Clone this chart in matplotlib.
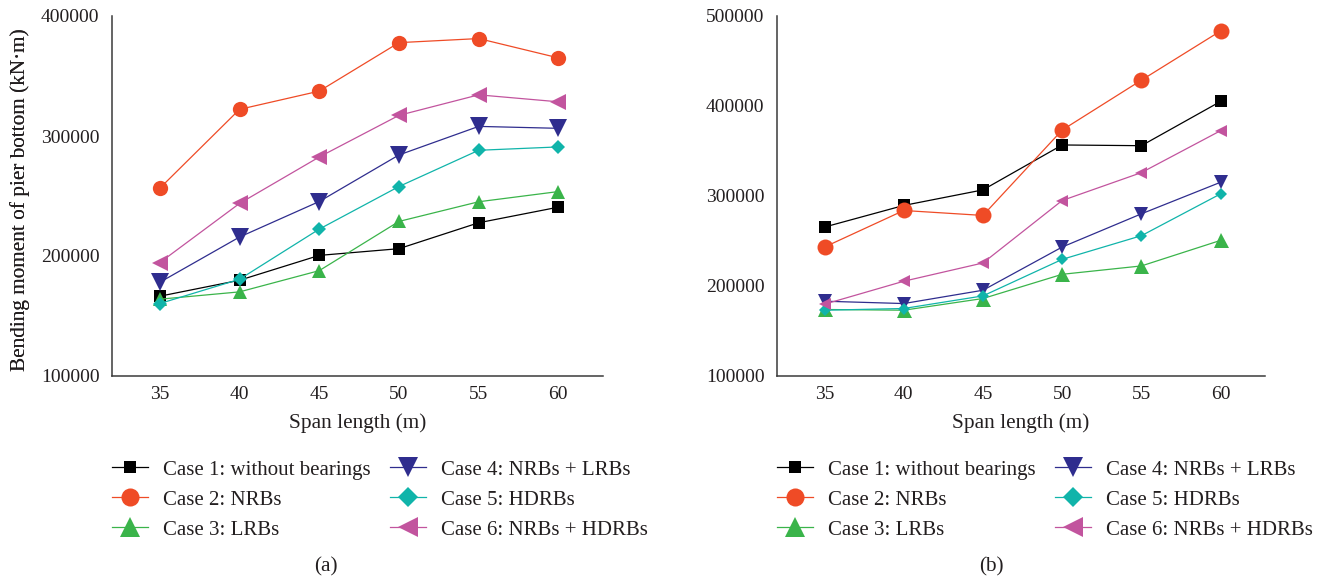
import matplotlib
matplotlib.use("Agg")
import matplotlib.pyplot as plt

plt.rcParams['font.family'] = ['Liberation Serif', 'DejaVu Serif']
plt.rcParams['text.color'] = '#231F20'
plt.rcParams['axes.labelcolor'] = '#231F20'
plt.rcParams['xtick.color'] = '#231F20'
plt.rcParams['ytick.color'] = '#231F20'

span = [35, 40, 45, 50, 55, 60]
labels = ["Case 1: without bearings", "Case 2: NRBs", "Case 3: LRBs",
          "Case 4: NRBs + LRBs", "Case 5: HDRBs", "Case 6: NRBs + HDRBs"]

# (a)
a_case1 = [166500, 179800, 200500, 206100, 227700, 240700]
a_case2 = [256500, 322200, 337400, 377800, 381200, 365100]
a_case3 = [164000, 170100, 187800, 228800, 245200, 253700]
a_case4 = [178100, 215800, 245400, 284200, 308000, 306400]
a_case5 = [160400, 180600, 222400, 257900, 288100, 290900]
a_case6 = [194500, 243800, 282500, 317200, 334300, 328500]

# (b)
b_case1 = [265500, 289500, 306800, 356700, 355900, 405100]
b_case2 = [243300, 283900, 278400, 373300, 428700, 483400]
b_case3 = [173900, 173100, 186100, 213000, 222300, 250700]
b_case4 = [183100, 180500, 195300, 243300, 280200, 315300]
b_case5 = [173100, 175000, 189000, 229600, 255900, 302400]
b_case6 = [179800, 205300, 225600, 295000, 326000, 372600]

a_yticks = [100000, 200000, 300000, 400000]
b_yticks = [100000, 200000, 300000, 400000, 500000]

colors = ['#000000', '#EF4B26', '#3AB44A', '#2F2D8E', '#10B4AA', '#C2549E']
markers = ['s', 'o', '^', 'v', 'D', '<']
a_ms = [8, 11, 10, 12.5, 7.5, 11.5]
b_ms = [8.2, 11.5, 10.8, 9.6, 5.8, 8.8]
leg_ms = [8.5, 13, 14, 14, 10, 14]
a_data = [a_case1, a_case2, a_case3, a_case4, a_case5, a_case6]
b_data = [b_case1, b_case2, b_case3, b_case4, b_case5, b_case6]

W, H = 1321, 582
fig = plt.figure(figsize=(W / 100, H / 100), dpi=100)

FS_TICK = 14
FS_LAB = 15.3
FS_LEG = 15


def make_panel(left_px, right_px, data, ms, yticks, ylim, letter, cap_x):
    top_px, bot_px = 16, 376
    ax = fig.add_axes([left_px / W, (H - bot_px) / H, (right_px - left_px) / W, (bot_px - top_px) / H])
    for d, c, m, s, lab in zip(data, colors, markers, ms, labels):
        ax.plot(span, d, color=c, marker=m, markersize=s, linewidth=0.9,
                markeredgewidth=0, label=lab)
    ax.set_xlim(32, 62.8)
    ax.set_ylim(*ylim)
    ax.set_xticks(span)
    ax.set_yticks(yticks)
    ax.set_yticklabels([str(v) for v in yticks])
    for s in ['top', 'right']:
        ax.spines[s].set_visible(False)
    for s in ['left', 'bottom']:
        ax.spines[s].set_color('#3a3a3a')
        ax.spines[s].set_linewidth(1.1)
    ax.tick_params(axis='both', length=0, labelsize=FS_TICK)
    ax.tick_params(axis='y', pad=9)
    ax.tick_params(axis='x', pad=7)
    ax.set_xlabel("Span length (m)", fontsize=FS_LAB)
    ax.set_ylabel("Bending moment of pier bottom (kN·m)", fontsize=FS_LAB)
    wpx = right_px - left_px
    ax.xaxis.set_label_coords(0.5, -(413 - bot_px) / (bot_px - top_px))
    ax.yaxis.label.set_verticalalignment('center')
    ax.yaxis.set_label_coords((20 - left_px) / wpx, 0.49)
    leg = ax.legend(loc='upper left', bbox_to_anchor=(left_px / W, (H - 460) / H),
                    bbox_transform=fig.transFigure, ncol=2, frameon=False,
                    fontsize=FS_LEG, borderpad=0, borderaxespad=0, handlelength=1.75,
                    handletextpad=0.68, columnspacing=0.95, labelspacing=0.5)
    for h, s in zip(leg.legend_handles, leg_ms):
        h.set_markersize(s)
    fig.text(cap_x / W, (H - 567) / H, letter, ha='center', va='center', fontsize=FS_LAB)
    return ax


make_panel(112, 603, a_data, a_ms, a_yticks, (100000, 400000), "(a)", 326)
make_panel(777, 1265, b_data, b_ms, b_yticks, (100000, 500000), "(b)", 991)

fig.savefig("out.png", dpi=100)
